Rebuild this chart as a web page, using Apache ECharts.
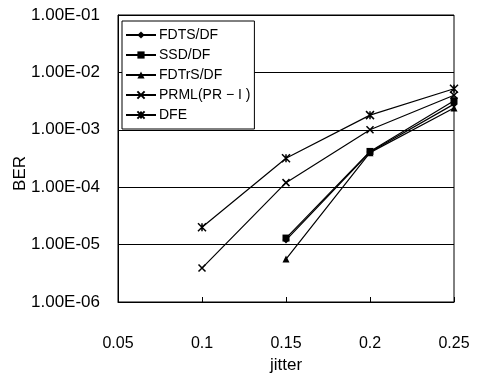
<!DOCTYPE html>
<html><head><meta charset="utf-8">
<script src="https://cdn.jsdelivr.net/npm/echarts@6/dist/echarts.min.js"></script>
<style>html,body{margin:0;padding:0;background:#fff}#c{width:481px;height:385px}</style>
</head><body><div id="c"></div>
<script>
const seriesNames = ['FDTS/DF', 'SSD/DF', 'FDTrS/DF', 'PRML(PR − I )', 'DFE'];
const fdtsX = [0.15, 0.2, 0.25];
const fdtsY = [1.2e-5, 4.1e-4, 2.8e-3];
const ssdX = [0.15, 0.2, 0.25];
const ssdY = [1.3e-5, 4.2e-4, 3.2e-3];
const fdtrsX = [0.15, 0.2, 0.25];
const fdtrsY = [5.6e-6, 4.0e-4, 2.4e-3];
const prmlX = [0.1, 0.15, 0.2, 0.25];
const prmlY = [3.9e-6, 1.2e-4, 1.0e-3, 4.0e-3];
const dfeX = [0.1, 0.15, 0.2, 0.25];
const dfeY = [2.0e-5, 3.2e-4, 1.8e-3, 5.2e-3];
const xTicks = [0.05, 0.1, 0.15, 0.2, 0.25];

const xPath = 'path://M0,0L10,10M10,0L0,10';
const starPath = 'path://M0,0L10,10M10,0L0,10M5,0L5,10';
function pairs(xs, ys){ return xs.map((x,i)=>[x, ys[i]]); }
const markers = ['diamond', 'rect', 'triangle', xPath, starPath];
const sizes = [7, 7, 7, 7, 8];
const data = [pairs(fdtsX,fdtsY), pairs(ssdX,ssdY), pairs(fdtrsX,fdtrsY), pairs(prmlX,prmlY), pairs(dfeX,dfeY)];
const font = 'Liberation Sans, Arial';

const chart = echarts.init(document.getElementById('c'));
chart.setOption({
  animation: false,
  backgroundColor: '#fff',
  grid: {left: 118, right: 27, top: 15, bottom: 83, show: true, borderColor: '#000', borderWidth: 1},
  legend: {
    orient: 'vertical', left: 122, top: 21, itemGap: 6, itemWidth: 30, itemHeight: 9,
    backgroundColor: '#fff', borderColor: '#000', borderWidth: 1, padding: [7, 4, 7, 3],
    textStyle: {fontFamily: font, fontSize: 14, color: '#000', padding: [0, 0, 0, -2]},
    data: seriesNames
  },
  graphic: [{type: 'text', left: 12, top: 156, rotation: Math.PI / 2,
    style: {text: 'BER', fontFamily: font, fontSize: 17, fill: '#000'}}],
  xAxis: {
    type: 'value', min: 0.05, max: 0.25, interval: 0.05,
    name: 'jitter', nameLocation: 'middle', nameGap: 55,
    nameTextStyle: {fontFamily: font, fontSize: 17, color: '#000'},
    axisLine: {lineStyle: {color: '#000'}},
    axisTick: {inside: true, length: 5, lineStyle: {color: '#000'}},
    axisLabel: {margin: 34, fontFamily: font, fontSize: 16, color: '#000',
      formatter: v => { const t = xTicks.find(x => Math.abs(x - v) < 1e-9); return t === undefined ? '' : String(t); }},
    splitLine: {show: false}
  },
  yAxis: {
    type: 'log', logBase: 10, min: 1e-6, max: 1e-1,
    axisLine: {lineStyle: {color: '#000'}},
    axisTick: {show: false},
    axisLabel: {margin: 18, fontFamily: font, fontSize: 17, color: '#000',
      formatter: v => { const e = Math.round(Math.log10(v)); const s = Math.abs(e) < 10 ? '0' + Math.abs(e) : String(Math.abs(e)); return '1.00E' + (e < 0 ? '-' : '+') + s; }},
    splitLine: {show: true, lineStyle: {color: '#000', width: 1}}
  },
  series: seriesNames.map((n, i) => ({
    name: n, type: 'line', data: data[i],
    symbol: markers[i], symbolSize: sizes[i],
    lineStyle: {color: '#000', width: 1.2},
    itemStyle: {color: '#000', borderColor: '#000', borderWidth: (i >= 3 ? 1.5 : 0)},
    z: 3
  }))
});
</script></body></html>
